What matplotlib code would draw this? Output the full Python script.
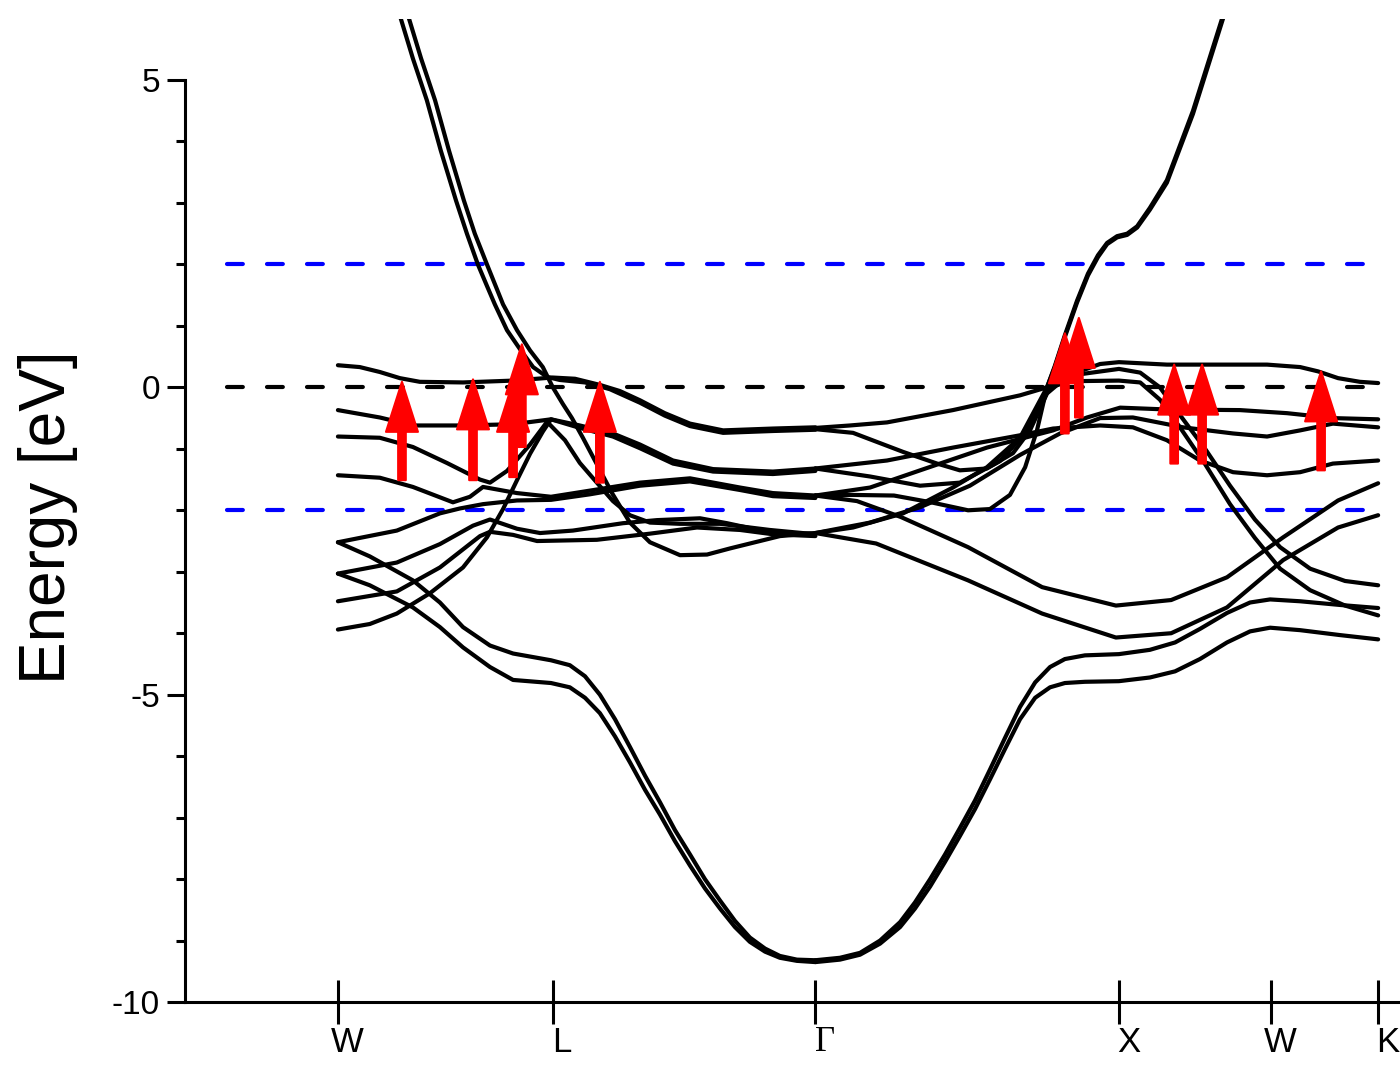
import matplotlib
matplotlib.use("Agg")
import matplotlib.pyplot as plt
import matplotlib.transforms as mtransforms
from matplotlib.patches import FancyArrowPatch, ArrowStyle

plt.rcParams['font.family'] = ['Liberation Sans', 'DejaVu Sans']

# high symmetry points along the path (units of 2pi/a)
kpoint_pos = [0.0, 0.707, 1.573, 2.573, 3.073, 3.427]
kpoint_labels = ['W', 'L', 'Γ', 'X', 'W', 'K']

# ---- bands W -> L -> Gamma ----
top_a_k = [0, 0.072, 0.138, 0.204, 0.270, 0.412, 0.577, 0.707, 0.781, 0.863, 0.929, 0.995, 1.077, 1.160, 1.269, 1.433, 1.573]
top_a_e = [0.36, 0.33, 0.25, 0.15, 0.09, 0.08, 0.11, 0.16, 0.14, 0.04, -0.06, -0.21, -0.42, -0.59, -0.70, -0.67, -0.65]

top_b_k = [0.204, 0.247, 0.293, 0.339, 0.389, 0.425, 0.461, 0.491, 0.517, 0.557, 0.600, 0.643, 0.689, 0.731, 0.814, 0.896, 0.995, 1.077, 1.160, 1.269, 1.433, 1.573]
top_b_e = [6.05, 5.35, 4.67, 3.85, 3.04, 2.5, 2.0, 1.65, 1.35, 0.93, 0.62, 0.33, 0.17, 0.12, 0.08, -0.03, -0.25, -0.46, -0.63, -0.74, -0.71, -0.69]

para_k = [0.231, 0.274, 0.320, 0.366, 0.415, 0.451, 0.491, 0.544, 0.590, 0.633, 0.675, 0.708, 0.741, 0.771, 0.807, 0.853, 0.903, 0.962, 1.028, 1.127, 1.216, 1.292, 1.456, 1.573]
para_e = [6.05, 5.35, 4.67, 3.85, 3.04, 2.5, 2.0, 1.35, 0.93, 0.60, 0.33, 0.0, -0.27, -0.5, -0.82, -1.25, -1.72, -2.2, -2.52, -2.73, -2.72, -2.62, -2.42, -2.37]

mid_a_k = [0, 0.138, 0.247, 0.412, 0.577, 0.702, 0.797, 0.906, 0.995, 1.104, 1.236, 1.433, 1.573]
mid_a_e = [-0.37, -0.49, -0.62, -0.62, -0.60, -0.52, -0.62, -0.75, -0.93, -1.19, -1.33, -1.37, -1.32]

mid_b_k = [0, 0.105, 0.194, 0.303, 0.412, 0.491, 0.544, 0.590, 0.633, 0.675, 0.702, 0.797, 0.906, 0.995, 1.104, 1.236, 1.433, 1.573]
mid_b_e = [-3.94, -3.85, -3.68, -3.35, -2.93, -2.44, -1.98, -1.51, -1.08, -0.72, -0.52, -0.66, -0.80, -0.99, -1.24, -1.37, -1.41, -1.36]

dip_k = [0, 0.138, 0.247, 0.359, 0.468, 0.501, 0.557, 0.633, 0.689, 0.748, 0.797, 0.853, 0.906, 0.962, 1.028, 1.127, 1.259, 1.423, 1.573]
dip_e = [-0.80, -0.82, -0.97, -1.23, -1.50, -1.55, -1.36, -0.93, -0.56, -0.86, -1.23, -1.55, -1.85, -2.08, -2.20, -2.22, -2.22, -2.32, -2.39]

low_a_k = [0, 0.138, 0.247, 0.379, 0.435, 0.478, 0.590, 0.702, 0.830, 0.995, 1.160, 1.325, 1.433, 1.573]
low_a_e = [-1.43, -1.47, -1.62, -1.87, -1.78, -1.62, -1.72, -1.78, -1.68, -1.55, -1.48, -1.63, -1.72, -1.76]

low_b_k = [0, 0.194, 0.336, 0.402, 0.478, 0.590, 0.702, 0.830, 0.995, 1.160, 1.325, 1.433, 1.573]
low_b_e = [-2.52, -2.33, -2.05, -1.97, -1.90, -1.84, -1.83, -1.74, -1.60, -1.53, -1.67, -1.77, -1.80]

low_c_k = [0, 0.194, 0.336, 0.445, 0.501, 0.590, 0.666, 0.774, 0.939, 1.051, 1.193, 1.282, 1.433, 1.573]
low_c_e = [-3.03, -2.85, -2.55, -2.25, -2.15, -2.30, -2.37, -2.33, -2.21, -2.16, -2.13, -2.21, -2.37, -2.38]

low_d_k = [0, 0.194, 0.336, 0.468, 0.501, 0.577, 0.656, 0.853, 1.028, 1.183, 1.325, 1.433, 1.573]
low_d_e = [-3.48, -3.32, -2.93, -2.42, -2.35, -2.40, -2.50, -2.48, -2.38, -2.28, -2.32, -2.39, -2.42]

s_a_k = [0, 0.105, 0.247, 0.336, 0.412, 0.501, 0.577, 0.702, 0.764, 0.814, 0.863, 0.913, 0.962, 1.012, 1.061,
         1.110, 1.160, 1.209, 1.259, 1.308, 1.357, 1.407, 1.456, 1.512, 1.573]
s_a_e = [-2.52, -2.75, -3.14, -3.5, -3.9, -4.2, -4.33, -4.44, -4.52, -4.7, -5.0, -5.4, -5.85, -6.32, -6.75,
         -7.2, -7.6, -8.0, -8.35, -8.68, -8.95, -9.13, -9.25, -9.31, -9.32]
s_b_e = [-3.03, -3.22, -3.58, -3.9, -4.23, -4.55, -4.76, -4.81, -4.88, -5.05, -5.3, -5.68, -6.1, -6.55, -6.95,
         -7.38, -7.78, -8.15, -8.48, -8.78, -9.02, -9.18, -9.28, -9.33, -9.35]

# ---- bands Gamma -> X -> W -> K ----
gx1_k = [1.573, 1.687, 1.809, 2.026, 2.247, 2.336, 2.455, 2.511, 2.573, 2.731, 3.061, 3.170, 3.229, 3.295, 3.367, 3.427]
gx1_e = [-0.66, -0.62, -0.57, -0.37, -0.13, 0.0, 0.28, 0.38, 0.41, 0.37, 0.37, 0.33, 0.26, 0.15, 0.09, 0.07]

gx2_k = [1.573, 1.697, 1.862, 1.974, 2.049, 2.138, 2.224, 2.280, 2.336, 2.379, 2.455, 2.573, 2.643, 2.708, 2.774, 2.857, 2.939, 3.021, 3.104, 3.203, 3.318, 3.427]
gx2_e = [-0.68, -0.74, -1.05, -1.24, -1.35, -1.32, -1.07, -0.70, -0.10, 0.08, 0.22, 0.30, 0.24, 0.0, -0.45, -1.0, -1.6, -2.15, -2.6, -2.95, -3.15, -3.22]

gx3_k = [1.573, 1.809, 2.026, 2.247, 2.356, 2.511, 2.619, 2.731, 2.840, 2.949, 3.061, 3.170, 3.278, 3.427]
gx3_e = [-1.32, -1.19, -0.98, -0.78, -0.67, -0.62, -0.65, -0.86, -1.19, -1.38, -1.43, -1.38, -1.24, -1.19]

gx4_k = [1.573, 1.753, 1.918, 2.049, 2.181, 2.264, 2.313, 2.346, 2.412, 2.573, 2.643, 2.708, 2.774, 2.857, 2.939, 3.021, 3.104, 3.203, 3.318, 3.427]
gx4_e = [-1.32, -1.45, -1.60, -1.55, -1.20, -0.75, -0.30, 0.0, 0.10, 0.11, 0.08, -0.2, -0.65, -1.25, -1.9, -2.45, -2.95, -3.3, -3.55, -3.71]

gx5_k = [1.573, 1.753, 1.918, 2.138, 2.356, 2.468, 2.577, 2.731, 2.972, 3.127, 3.278, 3.427]
gx5_e = [-1.76, -1.63, -1.35, -0.98, -0.70, -0.49, -0.33, -0.36, -0.37, -0.42, -0.50, -0.52]

gx6_k = [1.573, 1.753, 1.918, 2.082, 2.247, 2.379, 2.511, 2.619, 2.784, 2.949, 3.061, 3.170, 3.278, 3.427]
gx6_e = [-2.37, -2.20, -1.95, -1.60, -1.10, -0.75, -0.50, -0.49, -0.65, -0.75, -0.80, -0.70, -0.59, -0.65]

# bands that join the steep s-p band above E_F
sp_a_k = [1.573, 1.697, 1.832, 1.954, 2.076, 2.148, 2.214, 2.264, 2.303, 2.336, 2.362, 2.395, 2.435, 2.471,
          2.504, 2.534, 2.567, 2.600, 2.633, 2.675, 2.731, 2.817, 2.916]
sp_a_e = [-1.76, -1.75, -1.76, -1.87, -2.0, -1.98, -1.75, -1.3, -0.7, 0.0, 0.35, 0.85, 1.41, 1.85,
          2.15, 2.35, 2.46, 2.50, 2.62, 2.92, 3.37, 4.5, 6.05]

sp_b_k = [1.573, 1.697, 1.862, 2.026, 2.138, 2.247, 2.336, 2.362, 2.395, 2.435, 2.471,
          2.504, 2.534, 2.567, 2.600, 2.633, 2.675, 2.731, 2.817, 2.916]
sp_b_e = [-2.37, -2.28, -2.05, -1.63, -1.30, -0.82, 0.0, 0.33, 0.82, 1.38, 1.82,
          2.12, 2.33, 2.44, 2.48, 2.60, 2.89, 3.33, 4.45, 6.0]

bowl_a_k = [1.573, 1.710, 1.855, 2.076, 2.320, 2.563, 2.745, 2.929, 3.114, 3.295, 3.427]
bowl_a_e = [-1.76, -1.85, -2.11, -2.6, -3.25, -3.55, -3.46, -3.09, -2.44, -1.84, -1.56]

bowl_b_k = [1.573, 1.773, 2.076, 2.320, 2.563, 2.745, 2.929, 3.114, 3.295, 3.427]
bowl_b_e = [-2.37, -2.54, -3.14, -3.68, -4.07, -4.0, -3.58, -2.81, -2.28, -2.08]

s_c_k = [1.573, 1.654, 1.720, 1.786, 1.852, 1.901, 1.951, 2.0, 2.049, 2.099, 2.148, 2.198, 2.247, 2.297,
         2.346, 2.395, 2.461, 2.573, 2.675, 2.758, 2.840, 2.929, 3.005, 3.071, 3.170, 3.301, 3.427]
s_c_e = [-9.32, -9.28, -9.2, -9.0, -8.7, -8.38, -8.0, -7.6, -7.17, -6.72, -6.22, -5.7, -5.2, -4.8,
         -4.55, -4.42, -4.36, -4.34, -4.27, -4.15, -3.93, -3.67, -3.5, -3.45, -3.48, -3.54, -3.59]
s_d_e = [-9.35, -9.31, -9.23, -9.05, -8.78, -8.48, -8.12, -7.72, -7.3, -6.86, -6.38, -5.88, -5.4, -5.05,
         -4.88, -4.81, -4.79, -4.78, -4.72, -4.62, -4.42, -4.15, -3.97, -3.91, -3.95, -4.03, -4.10]

# red arrows (spin up markers)
arrow_k = [0.211, 0.445, 0.577, 0.606, 0.863, 2.395, 2.441, 2.755, 2.847, 3.239]
arrow_tail = [-1.51, -1.51, -1.46, -0.97, -1.55, -0.75, -0.49, -1.24, -1.24, -1.35]
arrow_tip = [0.09, 0.13, 0.09, 0.70, 0.09, 0.88, 1.13, 0.37, 0.37, 0.26]

# reference lines: energy window and Fermi level
window_levels = [2.0, -2.0]
fermi_level = 0.0
line_start, line_end = -0.366, 3.42

bands = [
    (top_a_k, top_a_e), (top_b_k, top_b_e), (para_k, para_e),
    (mid_a_k, mid_a_e), (mid_b_k, mid_b_e), (dip_k, dip_e),
    (low_a_k, low_a_e), (low_b_k, low_b_e), (low_c_k, low_c_e), (low_d_k, low_d_e),
    (s_a_k, s_a_e), (s_a_k, s_b_e),
    (gx1_k, gx1_e), (gx2_k, gx2_e), (gx3_k, gx3_e), (gx4_k, gx4_e),
    (gx5_k, gx5_e), (gx6_k, gx6_e), (sp_a_k, sp_a_e), (sp_b_k, sp_b_e),
    (bowl_a_k, bowl_a_e), (bowl_b_k, bowl_b_e),
    (s_c_k, s_c_e), (s_c_k, s_d_e),
]

fig = plt.figure(figsize=(14, 10.66), dpi=100)
ax = fig.add_axes([0.1321, 0.0600, 0.8679, 0.9226])

for e in window_levels:
    ax.plot([line_start, line_end], [e, e], color='blue', lw=3,
            ls=(0, (3.8, 5.8)), dash_capstyle='round', zorder=2)
ax.plot([line_start, line_end], [fermi_level, fermi_level], color='black', lw=3,
        ls=(0, (3.8, 5.8)), dash_capstyle='round', zorder=2)

for k, e in bands:
    ax.plot(k, e, color='black', lw=3.0, solid_joinstyle='round',
            solid_capstyle='round', zorder=3)

for x, e0, e1 in zip(arrow_k, arrow_tail, arrow_tip):
    arr = FancyArrowPatch((x, e0), (x, e1),
                          arrowstyle=ArrowStyle.Simple(head_length=3.6, head_width=2.3, tail_width=0.55),
                          mutation_scale=10, facecolor='red', edgecolor='red',
                          lw=1.5, joinstyle='round', capstyle='round',
                          shrinkA=0, shrinkB=0, zorder=5)
    ax.add_patch(arr)

ax.set_xlim(-0.504, 3.499)
ax.set_ylim(-10, 6)

for side in ['top', 'right']:
    ax.spines[side].set_visible(False)
ax.spines['left'].set_bounds(-10, 5)
ax.spines['left'].set_linewidth(2.2)
ax.spines['bottom'].set_linewidth(2.2)

ax.set_yticks([-10, -5, 0, 5])
ax.set_yticklabels(['-10', '-5', '0', '5'], fontsize=24)
ax.set_yticks([v for v in range(-9, 5) if v % 5 != 0], minor=True)
ax.tick_params(axis='y', which='major', direction='out', length=13, width=2.2, pad=5)
ax.tick_params(axis='y', which='minor', direction='out', length=6.5, width=2.2)

ax.set_xticks(kpoint_pos)
ax.set_xticklabels(kpoint_labels, fontsize=25)
ax.tick_params(axis='x', direction='inout', length=32, width=2.2, pad=1)
shift = mtransforms.ScaledTranslation(7 / 72, 0, fig.dpi_scale_trans)
for lbl in ax.get_xticklabels():
    lbl.set_transform(lbl.get_transform() + shift)
ax.get_xticklabels()[2].set_fontfamily('Liberation Serif')

fig.text(48 / 1400, 1 - 517 / 1066, 'Energy [eV]', rotation=90, fontsize=46,
         ha='center', va='center')

fig.savefig('out.png', dpi=100)
